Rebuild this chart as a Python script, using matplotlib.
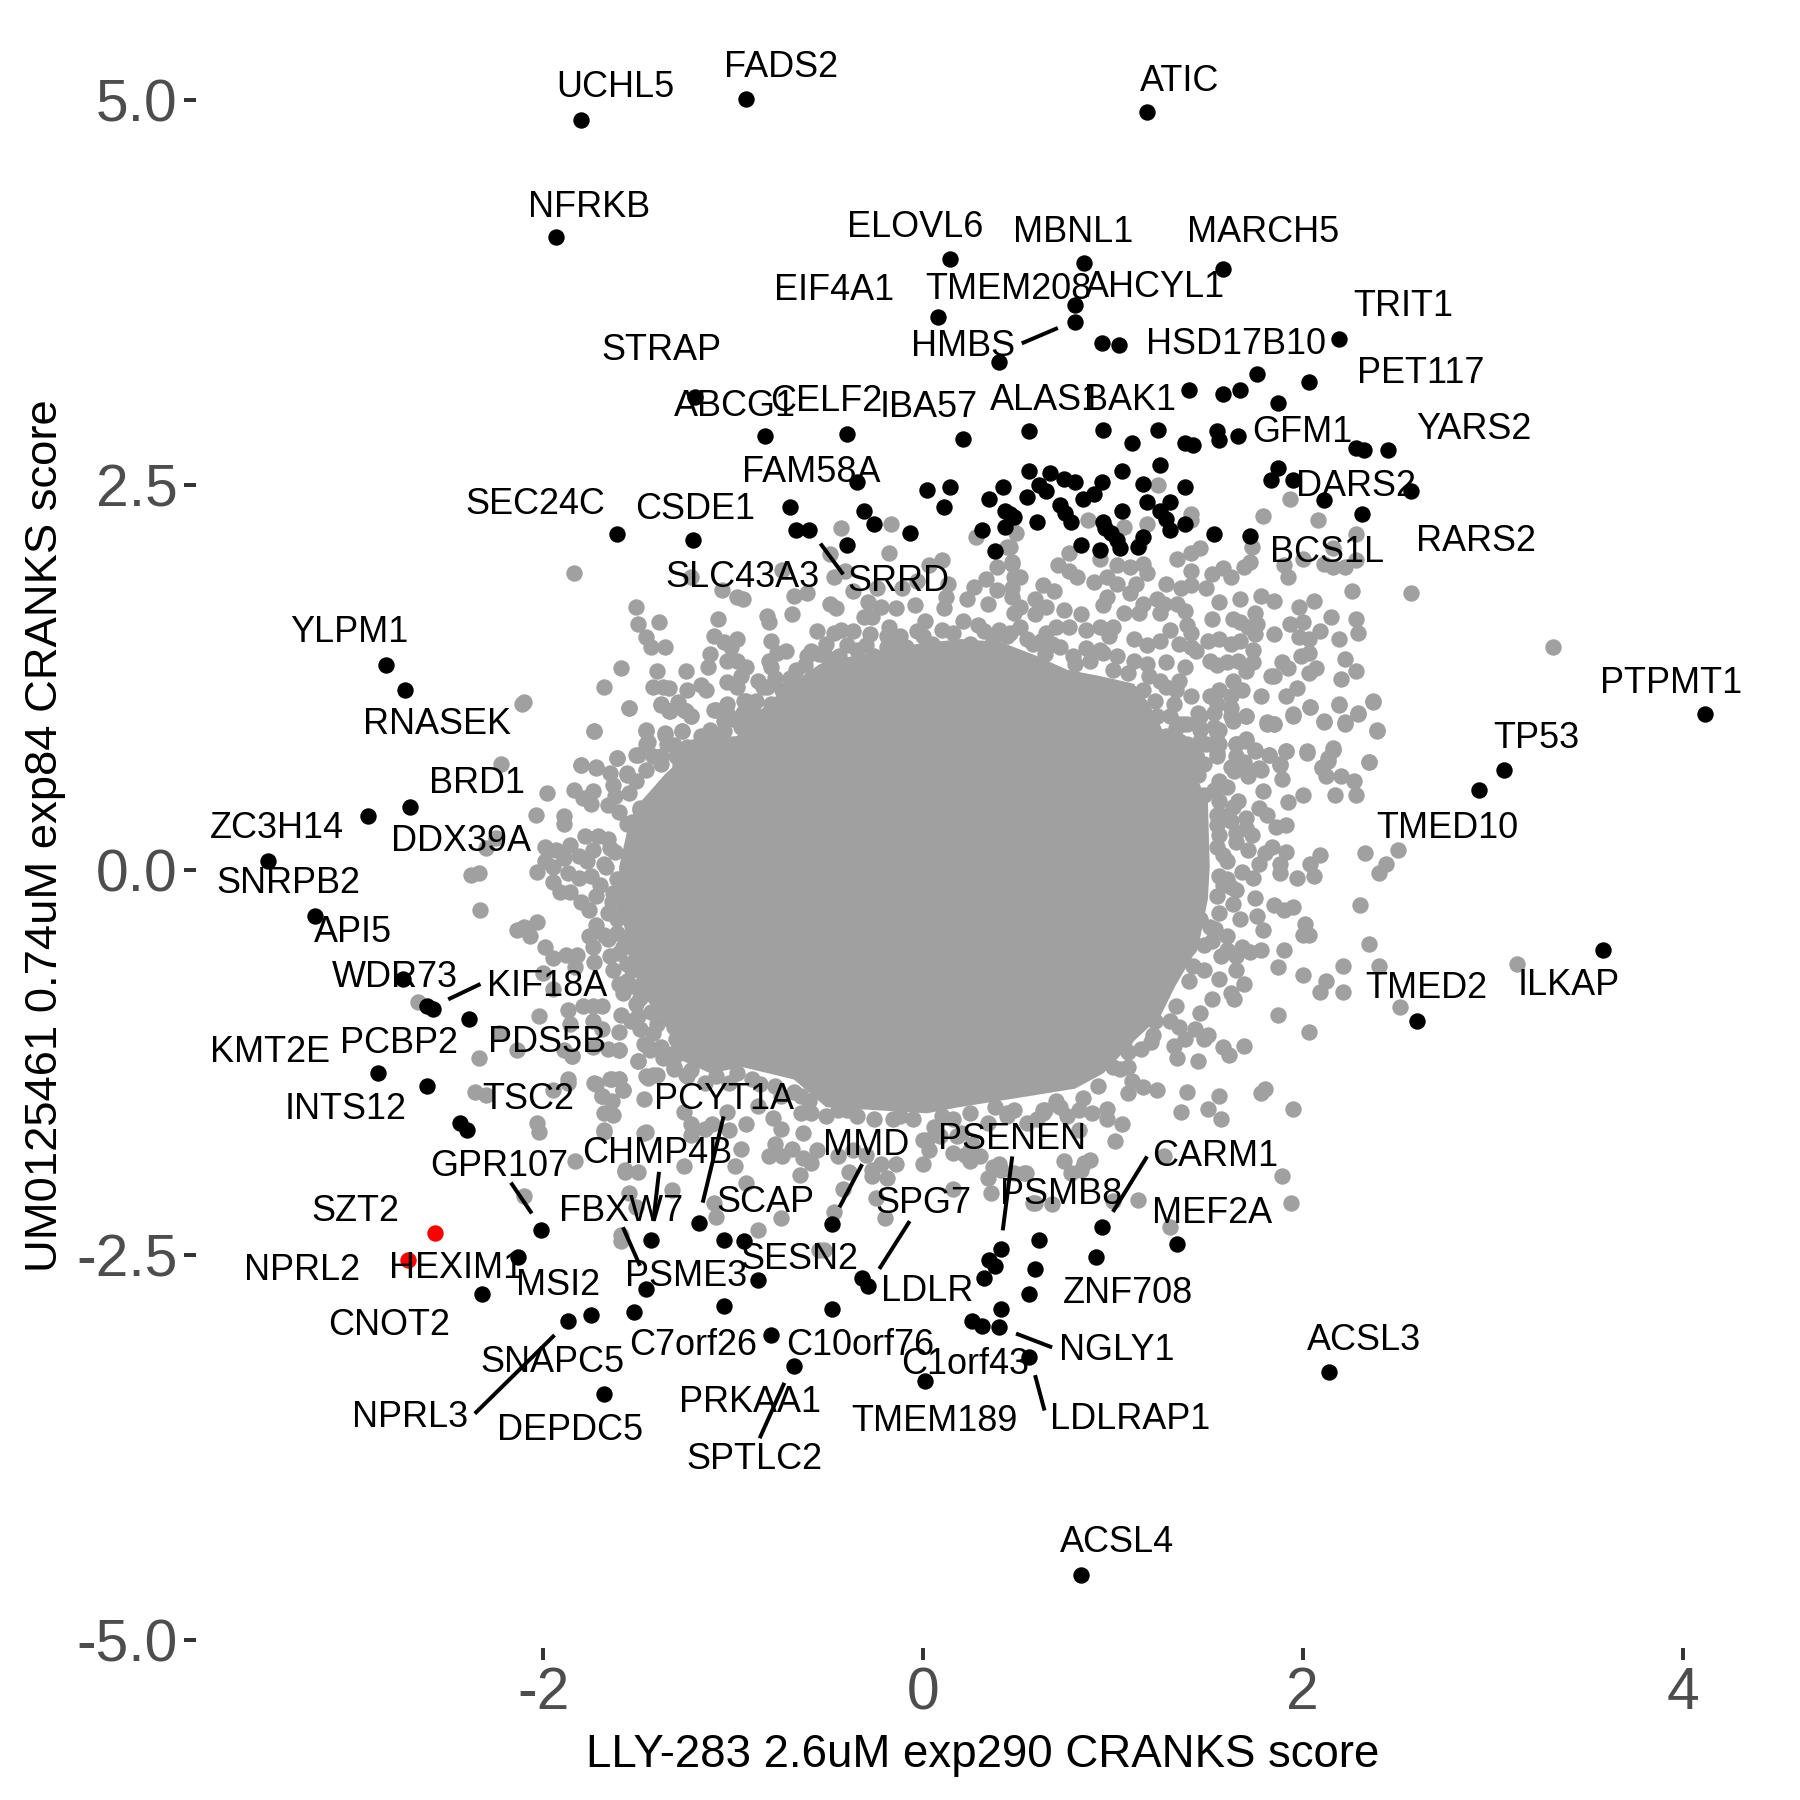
import numpy as np
import matplotlib
matplotlib.use('Agg')
import matplotlib.pyplot as plt

plt.rcParams['font.family'] = ['Liberation Sans', 'DejaVu Sans']

x_label = 'LLY-283 2.6uM exp290 CRANKS score'
y_label = 'UM0125461 0.74uM exp84 CRANKS score'
x_ticks = [-2, 0, 2, 4]
x_tick_labels = ['-2', '0', '2', '4']
y_ticks = [-5.0, -2.5, 0.0, 2.5, 5.0]
y_tick_labels = ['-5.0', '-2.5', '0.0', '2.5', '5.0']

# The central cloud is too dense to read point by point, so it is its outline.
core_outline = [
    (-1.60, 0.02), (-1.56, 0.24), (-1.51, 0.41), (-1.36, 0.62), (-1.16, 0.85), (-0.98, 0.87),
    (-0.89, 1.00), (-0.72, 1.19), (-0.54, 1.34), (-0.37, 1.39), (-0.02, 1.47), (0.20, 1.50),
    (0.41, 1.48), (0.58, 1.40), (0.76, 1.30), (0.93, 1.26), (1.11, 1.21), (1.19, 1.08),
    (1.27, 0.89), (1.40, 0.70), (1.50, 0.45), (1.51, 0.02), (1.50, -0.19), (1.45, -0.50),
    (1.33, -0.75), (1.25, -0.95), (1.12, -1.10), (0.95, -1.32), (0.80, -1.42), (0.55, -1.47),
    (0.19, -1.54), (0.02, -1.58), (-0.24, -1.56), (-0.51, -1.54), (-0.68, -1.36), (-0.95, -1.28),
    (-1.12, -1.32), (-1.30, -1.22), (-1.33, -1.05), (-1.45, -0.85), (-1.52, -0.60), (-1.60, -0.25),
]

grey_top_left = [
    (-1.84, 1.93), (-0.43, 2.22), (-0.17, 2.25), (-0.18, 2.06), (-0.49, 2.05), (-1.22, 1.90),
    (-1.06, 1.82), (-0.98, 1.77), (-0.95, 1.76), (-0.74, 1.95), (-0.68, 1.78), (-0.61, 1.80),
    (-0.47, 1.90), (-0.41, 1.94), (-0.37, 1.81), (-0.49, 1.73), (-0.46, 1.70), (-0.69, 1.66),
    (-0.82, 1.65), (-0.81, 1.61), (-1.08, 1.63), (-1.51, 1.71), (-1.50, 1.60), (-1.39, 1.61),
    (-1.46, 1.51), (-1.43, 1.45), (-1.36, 1.45), (-1.59, 1.31), (-1.40, 1.29), (-1.25, 1.29),
    (-1.68, 1.19), (-1.42, 1.19), (-1.37, 1.19), (-1.34, 1.18), (-1.24, 1.17), (-1.17, 1.20),
    (-1.14, 1.17), (-1.55, 1.05), (-1.38, 1.08), (-1.29, 1.09), (-1.33, 1.03), (-1.26, 1.04),
    (-1.22, 1.00), (-1.73, 0.90), (-1.46, 0.90), (-1.36, 0.88), (-1.27, 0.90), (-2.10, 1.09),
    (-1.61, 0.73), (-1.50, 0.75), (-1.46, 0.82), (-1.80, 0.68), (-1.72, 0.67), (-1.10, 1.52),
    (-1.05, 1.48), (-0.98, 1.50), (-1.01, 1.45), (-0.80, 1.49), (-1.12, 1.40), (-1.13, 1.32),
    (-1.03, 1.36), (-0.98, 1.36), (-0.93, 1.32), (-0.81, 1.36), (-0.80, 1.32), (-1.03, 1.22),
    (-0.96, 1.26), (-0.87, 1.23), (-0.74, 1.17), (-0.72, 1.42), (-0.77, 1.41), (-0.59, 1.42),
    (-0.56, 1.55), (-0.47, 1.54), (-0.43, 1.56), (-0.37, 1.55), (-0.28, 1.53), (-0.18, 1.58),
    (-0.19, 1.52), (-0.31, 1.64), (-0.27, 1.64), (-0.29, 1.74), (-0.22, 1.71), (-0.14, 1.70),
    (-0.04, 1.72), (-0.24, 1.83), (-0.11, 1.83), (-0.03, 1.88), (0.13, 1.86), (0.03, 1.98),
    (0.10, 2.01), (0.39, 1.97), (0.28, 2.16), (0.44, 2.10), (0.47, 2.27), (0.33, 1.89),
    (0.27, 1.84), (0.23, 1.76), (0.12, 1.77), (0.11, 1.70), (0.01, 1.62), (-0.03, 1.55),
    (0.21, 1.62), (0.29, 1.59), (0.39, 1.82), (0.47, 1.99), (0.47, 1.77), (0.34, 1.73),
    (0.48, 1.67), (0.48, 1.90), (-0.14, 1.47), (-0.09, 1.45), (-1.09, 1.04), (-1.03, 1.08),
    (-0.95, 1.02), (-1.05, 0.97), (-1.17, 0.87), (-1.12, 0.91), (-1.38, 0.74), (-1.31, 0.81),
    (-1.24, 0.80), (-1.17, 0.76), (-0.94, 1.10), (-0.89, 1.02), (-0.84, 1.19),
]

grey_top_right = [
    (1.24, 2.50), (1.93, 2.41), (1.79, 2.30), (2.08, 2.27), (0.87, 2.27), (1.18, 2.25),
    (1.41, 2.31), (1.41, 2.27), (2.28, 2.18), (1.06, 2.23), (1.14, 2.11), (1.73, 2.10),
    (1.46, 2.09), (1.41, 2.06), (1.34, 2.02), (1.72, 2.00), (1.69, 1.97), (1.90, 1.98),
    (1.92, 1.90), (2.00, 2.02), (2.16, 2.09), (2.11, 1.99), (2.16, 1.97), (2.22, 1.97),
    (2.28, 2.01), (2.26, 1.81), (2.57, 1.80), (1.41, 1.94), (1.41, 1.85), (1.36, 1.83),
    (1.49, 1.83), (1.52, 1.92), (1.58, 1.96), (1.62, 1.90), (1.56, 1.74), (1.67, 1.76),
    (1.78, 1.78), (1.85, 1.75), (2.06, 1.75), (1.98, 1.71), (1.75, 1.67), (1.52, 1.63),
    (1.63, 1.63), (1.67, 1.61), (1.71, 1.58), (1.76, 1.60), (2.15, 1.64), (2.28, 1.63),
    (1.93, 1.60), (2.00, 1.61), (2.29, 1.54), (2.09, 1.55), (1.85, 1.53), (1.75, 1.53),
    (1.98, 1.51), (2.03, 1.50), (2.19, 1.50), (1.50, 1.49), (1.56, 1.50), (1.62, 1.47),
    (1.67, 1.49), (2.03, 1.41), (1.99, 1.39), (2.22, 1.37), (1.74, 1.43), (1.51, 1.36),
    (1.55, 1.33), (1.60, 1.35), (1.66, 1.36), (1.74, 1.35), (1.89, 1.35), (1.92, 1.31),
    (2.07, 1.31), (2.03, 1.28), (2.28, 1.29), (1.83, 1.26), (1.85, 1.26), (1.70, 1.29),
    (1.63, 1.23), (2.20, 1.24), (1.97, 1.18), (1.68, 1.17), (1.56, 1.17), (1.51, 1.13),
    (1.62, 1.13), (1.41, 1.13), (1.35, 1.23), (1.78, 1.13), (1.91, 1.13), (2.37, 1.10),
    (2.04, 1.06), (2.19, 1.08), (2.29, 1.01), (1.55, 1.08), (1.62, 1.05), (1.70, 1.00),
    (1.95, 1.00), (1.81, 0.95), (1.85, 0.95), (2.11, 0.96), (2.22, 0.95), (2.39, 0.91),
    (1.63, 0.97), (1.53, 0.93), (1.46, 1.00), (1.46, 0.91), (1.55, 0.89), (1.39, 0.95),
    (1.37, 0.80), (1.46, 0.84), (1.70, 0.85), (1.65, 0.82), (1.75, 0.78), (1.82, 0.75),
    (1.91, 0.77), (2.02, 0.76), (2.16, 0.78), (2.13, 0.73), (2.10, 0.67), (2.35, 0.70),
    (1.88, 0.69), (1.77, 0.66), (1.55, 0.74), (1.65, 0.74), (1.41, 0.69), (1.44, 0.74),
    (1.69, 0.69), (3.32, 1.45), (0.46, 2.10), (0.49, 2.19), (0.47, 2.00), (0.51, 1.90),
    (0.47, 1.83), (0.51, 1.71), (0.59, 1.76), (0.59, 1.66), (0.63, 1.85), (0.69, 1.81),
    (0.71, 1.98), (0.77, 2.06), (0.77, 1.94), (0.81, 1.90), (0.90, 1.87), (0.93, 2.02),
    (0.97, 1.90), (1.02, 1.98), (1.09, 1.97), (1.16, 1.99), (1.18, 1.93), (1.12, 1.86),
    (1.02, 1.86), (0.97, 1.77), (0.95, 1.72), (1.09, 1.80), (1.16, 1.73), (1.23, 1.76),
    (1.28, 1.86), (1.27, 1.73), (1.34, 1.73), (1.38, 1.68), (1.25, 1.67), (1.39, 1.59),
    (1.41, 1.54), (1.30, 1.56), (1.35, 1.47), (1.41, 1.45), (1.44, 1.42), (1.28, 1.35),
    (1.38, 1.32), (1.14, 1.67), (1.06, 1.67), (0.65, 1.71), (0.74, 1.69), (0.83, 1.66),
    (0.93, 1.58), (0.86, 1.56), (0.77, 1.58), (0.65, 1.54), (1.00, 1.58), (1.11, 1.50),
    (1.18, 1.46), (1.25, 1.49), (1.18, 1.34), (0.98, 1.52), (0.72, 1.45), (0.86, 1.44),
    (0.95, 1.41), (0.62, 1.49), (1.25, 1.23), (1.33, 1.17),
]

grey_left = [
    (-2.11, 1.08), (-1.55, 1.05), (-1.73, 0.90), (-2.22, 0.69), (-1.46, 0.91), (-1.36, 0.89),
    (-1.27, 0.90), (-1.38, 1.07), (-1.34, 1.03), (-1.22, 1.00), (-1.10, 1.04), (-1.25, 1.03),
    (-1.45, 0.83), (-1.61, 0.73), (-1.51, 0.75), (-1.80, 0.68), (-1.72, 0.66), (-1.65, 0.63),
    (-1.56, 0.62), (-1.63, 0.55), (-1.62, 0.48), (-1.98, 0.50), (-1.84, 0.52), (-1.74, 0.51),
    (-1.79, 0.47), (-1.75, 0.43), (-1.66, 0.42), (-2.04, 0.36), (-1.89, 0.35), (-1.89, 0.30),
    (-1.53, 0.31), (-1.49, 0.40), (-1.51, 0.58), (-2.30, 0.14), (-2.25, 0.21), (-2.38, -0.03),
    (-2.34, -0.02), (-2.33, -0.26), (-1.78, 0.22), (-1.71, 0.22), (-1.99, 0.15), (-1.93, 0.13),
    (-1.86, 0.16), (-1.65, 0.14), (-1.99, 0.06), (-1.95, 0.02), (-2.03, -0.01), (-1.89, 0.08),
    (-1.87, -0.02), (-1.81, -0.05), (-1.95, -0.08), (-1.91, -0.14), (-1.86, -0.14), (-1.77, 0.06),
    (-1.68, 0.04), (-1.61, -0.06), (-1.80, -0.21), (-1.72, -0.17), (-1.76, -0.26), (-1.64, -0.21),
    (-1.58, -0.28), (-2.03, -0.34), (-2.10, -0.37), (-2.14, -0.39), (-2.07, -0.43), (-1.72, -0.36),
    (-1.76, -0.43), (-1.66, -0.45), (-1.56, -0.44), (-1.61, -0.41), (-1.99, -0.50), (-1.95, -0.57),
    (-1.88, -0.55), (-1.82, -0.55), (-1.74, -0.50), (-1.73, -0.60), (-1.65, -0.56), (-1.51, -0.54),
    (-1.44, -0.65), (-1.83, -0.63), (-2.00, -0.67), (-1.95, -0.77), (-1.60, -0.74), (-1.51, -0.76),
    (-1.53, -0.65), (-1.79, -0.88), (-1.74, -0.88), (-1.69, -0.88), (-1.58, -0.80), (-1.49, -0.83),
    (-1.40, -0.78), (-1.87, -0.91), (-2.02, -0.95), (-1.59, -0.94), (-1.54, -0.98), (-1.60, -1.05),
    (-1.86, -1.00), (-2.23, -1.06), (-1.74, -0.98), (-1.69, -1.03), (-1.49, -1.03), (-1.40, -1.00),
    (-1.34, -0.97), (-2.14, -1.17), (-2.34, -1.22), (-1.89, -1.17), (-1.85, -1.21), (-1.74, -1.15),
    (-1.60, -1.17), (-1.47, -1.13), (-1.38, -1.15), (-1.50, -1.24), (-1.31, -1.19), (-1.21, -1.19),
    (-1.24, -1.06), (-1.31, -1.28), (-1.24, -1.34), (-1.42, -1.33), (-1.45, -1.35), (-2.36, -1.44),
    (-1.87, -1.36), (-1.72, -1.39), (-1.65, -1.36), (-1.60, -1.36), (-1.58, -1.43), (-1.69, -1.47),
    (-1.95, -1.43), (-2.66, -0.86), (-2.30, -1.46), (-2.10, -2.12), (-2.03, -1.64), (-2.02, -1.70),
    (-1.73, -1.38), (-1.87, -1.38), (-1.68, -1.70), (-1.46, -1.70),
]

grey_right = [
    (1.70, 1.00), (1.81, 0.96), (1.85, 0.95), (1.95, 1.01), (2.04, 1.06), (2.11, 0.97),
    (2.22, 0.96), (2.29, 1.02), (2.19, 1.07), (2.37, 1.09), (2.39, 0.90), (1.45, 1.02),
    (1.53, 1.02), (1.62, 1.00), (1.37, 0.95), (1.46, 0.92), (1.56, 0.91), (1.70, 0.84),
    (1.75, 0.77), (1.82, 0.75), (1.91, 0.77), (2.02, 0.77), (2.16, 0.79), (2.13, 0.71),
    (2.10, 0.66), (1.88, 0.68), (2.35, 0.70), (2.12, 0.61), (2.20, 0.61), (2.27, 0.58),
    (1.89, 0.59), (1.78, 0.65), (1.71, 0.61), (1.64, 0.64), (1.69, 0.70), (1.37, 0.81),
    (1.44, 0.75), (1.56, 0.82), (1.65, 0.82), (1.79, 0.51), (2.00, 0.49), (2.17, 0.49),
    (2.28, 0.49), (1.92, 0.44), (1.77, 0.40), (1.81, 0.36), (1.66, 0.45), (1.62, 0.32),
    (1.70, 0.34), (1.86, 0.28), (1.91, 0.29), (1.70, 0.27), (1.73, 0.23), (1.55, 0.29),
    (2.33, 0.11), (2.50, 0.13), (2.44, 0.04), (2.40, -0.02), (2.09, 0.10), (2.04, 0.04),
    (2.06, -0.04), (1.97, -0.05), (1.84, 0.15), (1.80, 0.11), (1.91, 0.12), (1.77, 0.04),
    (1.71, 0.13), (1.65, 0.18), (1.88, 0.04), (1.88, -0.02), (1.68, -0.01), (1.74, -0.05),
    (1.65, -0.13), (1.75, -0.18), (2.30, -0.23), (1.85, -0.23), (1.90, -0.26), (1.95, -0.24),
    (1.76, -0.30), (1.67, -0.32), (2.01, -0.35), (2.00, -0.42), (2.03, -0.42), (1.79, -0.39),
    (1.60, -0.43), (2.35, -0.48), (1.68, -0.50), (1.78, -0.52), (1.72, -0.53), (1.90, -0.52),
    (1.65, -0.56), (1.48, -0.49), (1.60, -0.52), (1.40, -0.50), (1.57, -0.56), (1.87, -0.63),
    (2.21, -0.62), (2.40, -0.62), (3.13, -0.61), (2.00, -0.68), (1.65, -0.65), (2.12, -0.72),
    (2.09, -0.79), (2.21, -0.79), (1.69, -0.74), (1.56, -0.71), (1.48, -0.65), (1.62, -0.80),
    (1.64, -0.84), (1.52, -0.84), (1.46, -0.93), (1.87, -0.94), (2.51, -0.89), (2.03, -1.05),
    (1.35, -1.02), (1.43, -1.03), (1.50, -1.07), (1.48, -1.10), (1.69, -1.14), (1.58, -1.15),
    (1.61, -1.20), (1.38, -1.10), (1.32, -1.14), (1.34, -1.22), (1.45, -1.24), (1.21, -1.07),
    (1.15, -1.16), (1.06, -1.11), (1.08, -1.28), (1.04, -1.29), (1.10, -1.37), (1.16, -1.41),
    (1.23, -1.43), (1.39, -1.44), (1.56, -1.47), (1.78, -1.45), (1.80, -1.42), (1.08, -1.45),
]

grey_bottom = [
    (-1.60, -1.17), (-1.66, -1.16), (-1.85, -1.21), (-1.50, -1.24), (-1.44, -1.17), (-1.30, -1.20),
    (-1.31, -1.29), (-1.25, -1.33), (-1.46, -1.34), (-1.40, -1.33), (-1.72, -1.39), (-1.64, -1.36),
    (-1.60, -1.36), (-1.58, -1.43), (-1.69, -1.47), (-1.64, -1.50), (-1.47, -1.49), (-1.68, -1.58),
    (-1.63, -1.59), (-1.68, -1.69), (-1.47, -1.71), (-1.83, -1.89), (-1.26, -1.57), (-1.22, -1.65),
    (-1.22, -1.72), (-1.11, -1.65), (-1.15, -1.68), (-1.03, -1.57), (-1.02, -1.69), (-0.93, -1.65),
    (-0.87, -1.53), (-0.79, -1.61), (-0.75, -1.68), (-0.64, -1.58), (-0.63, -1.71), (-0.96, -1.81),
    (-0.99, -1.92), (-1.26, -1.92), (-1.57, -1.96), (-1.50, -1.96), (-1.32, -2.08), (-1.55, -2.10),
    (-1.51, -2.19), (-1.59, -2.37), (-1.10, -2.16), (-1.09, -2.25), (-0.93, -2.03), (-0.75, -2.26),
    (-0.87, -2.34), (-0.52, -2.47), (-0.81, -1.86), (-0.78, -1.78), (-0.74, -1.86), (-0.69, -1.81),
    (-0.63, -1.87), (-0.59, -1.90), (-0.56, -1.82), (-0.65, -1.98), (-0.47, -2.22), (-0.42, -2.07),
    (-0.39, -1.96), (-0.27, -1.99), (-0.22, -1.91), (-0.14, -1.91), (-0.19, -2.00), (0.00, -1.91),
    (-0.25, -2.13), (-0.20, -2.26), (0.16, -2.07), (0.36, -2.10), (0.34, -2.00), (0.25, -1.89),
    (0.16, -1.84), (0.22, -1.85), (0.54, -1.97), (0.37, -1.93), (0.41, -1.95), (0.48, -1.97),
    (0.03, -1.82), (0.58, -2.16), (0.68, -2.17), (0.00, -1.75), (0.09, -1.73), (0.63, -1.56),
    (-0.37, -1.82), (-0.45, -1.86), (-0.30, -1.85), (1.36, -1.57), (1.50, -1.55), (1.57, -1.62),
    (1.95, -1.55), (1.05, -1.65), (1.01, -1.76), (1.89, -1.99), (1.94, -2.16), (1.13, -2.14),
    (1.30, -2.32), (0.53, -1.97), (0.59, -2.16), (0.78, -1.97), (0.85, -1.90), (0.88, -1.88),
    (0.74, -1.89), (0.83, -1.95), (1.00, -2.15), (-0.27, -1.95), (-0.55, -2.47), (1.27, -1.86),
    (0.64, -1.56), (0.82, -1.56), (0.97, -1.55), (0.44, -1.58), (0.26, -1.78), (0.30, -1.86),
    (0.40, -1.91), (0.20, -1.71), (-1.59, -2.41), (-1.57, -1.95),
]

# dense band just outside the outline, estimated by eye
grey_ring = [
    (-0.67, 1.30), (-0.61, 1.39), (-0.51, 1.47), (-0.44, 1.39), (-0.35, 1.43), (-0.26, 1.39),
    (-0.19, 1.45), (-0.05, 1.39), (0.05, 1.47), (0.16, 1.54), (0.25, 1.47), (0.37, 1.49),
    (0.46, 1.54), (-0.98, 1.19), (-0.93, 1.10), (-0.82, 1.19), (-1.03, 1.02), (-0.96, 0.93),
    (-1.10, 0.87), (-1.21, 0.80), (-1.30, 0.74), (-1.38, 0.69), (0.58, 1.47), (0.51, 1.58),
    (0.44, 1.52), (0.70, 1.58), (0.79, 1.39), (0.93, 1.43), (1.02, 1.39), (1.11, 1.36),
    (1.19, 1.26), (1.16, 1.17), (1.28, 1.19), (1.32, 1.08), (1.35, 0.95), (1.28, 0.87),
    (1.39, 0.82), (1.23, 1.00), (1.32, 0.71), (1.39, 0.78), (1.48, 0.69), (1.55, 0.76),
    (1.62, 0.67), (1.56, 0.58), (1.48, 0.49), (1.56, 0.45), (1.63, 0.41), (1.60, 0.54),
    (1.39, 0.60), (1.49, 0.82), (1.35, 0.84), (1.56, 0.23), (1.65, 0.24), (1.55, 0.15),
    (1.60, 0.06), (1.56, -0.04), (1.62, -0.11), (1.55, -0.17), (1.63, -0.22), (1.56, -0.28),
    (1.51, -0.37), (1.46, -0.32), (-1.81, 0.09), (-1.74, 0.13), (-1.67, 0.02), (-1.75, -0.04),
    (-1.63, -0.15), (-1.56, -0.22), (-1.53, -0.32), (-1.61, -0.32), (-1.60, -0.54), (-1.56, -0.61),
    (-1.63, -0.65), (-1.47, -0.71), (-1.44, -0.80), (-1.51, -0.87), (-1.33, -0.91), (-1.31, -1.02),
    (-1.42, -1.06), (-1.24, -1.15), (-1.16, -1.06), (-1.49, 0.39), (-1.56, 0.30), (-1.56, 0.63),
    (-1.42, 0.74), (-1.35, 0.82), (-1.46, 0.65), (-1.17, -1.23), (-1.09, -1.34), (-0.98, -1.32),
    (-0.86, -1.39), (-0.75, -1.47), (-0.64, -1.47), (-0.59, -1.58), (-0.51, -1.60), (-0.40, -1.56),
    (-0.26, -1.62), (-0.16, -1.62), (-0.05, -1.62), (0.06, -1.67), (0.16, -1.62), (0.25, -1.58),
    (0.34, -1.64), (0.44, -1.60), (0.55, -1.64), (0.63, -1.58), (0.02, -1.75), (0.18, -1.73),
    (0.25, -1.82), (0.48, -1.56), (0.60, -1.62), (0.76, -1.60), (0.89, -1.58), (0.72, -1.54),
    (0.97, -1.62), (0.82, -1.69), (-1.66, 0.20), (-1.70, -0.10), (-1.66, -0.28), (-1.62, 0.12),
    (-1.60, 0.38), (-1.55, 0.50), (-1.68, -0.42), (-1.58, -0.50), (-1.56, -0.72), (-1.50, -0.95),
    (-1.43, -0.92), (-1.45, -1.15), (-1.37, -1.22), (-1.30, -1.10), (-1.28, 0.68), (-1.22, 0.72),
    (-1.12, 0.80), (-1.05, 0.90), (-1.00, 0.98), (-0.92, 0.94), (-0.88, 1.10), (-0.80, 1.08),
    (-0.78, 1.25), (-0.70, 1.25), (-0.62, 1.33), (-0.55, 1.40), (-0.50, 1.38), (-0.40, 1.46),
    (-0.30, 1.46), (-0.12, 1.52), (0.00, 1.52), (0.10, 1.56), (0.32, 1.55), (0.40, 1.56),
    (0.55, 1.50), (0.64, 1.40), (0.68, 1.47), (0.80, 1.34), (0.88, 1.36), (1.00, 1.30),
    (1.08, 1.28), (1.22, 1.10), (1.30, 1.00), (1.33, 0.92), (1.43, 0.72), (1.45, 0.62),
    (1.53, 0.52), (1.58, 0.35), (1.55, 0.36), (1.60, -0.06), (1.58, 0.10), (1.58, -0.10),
    (1.54, -0.38), (1.52, -0.46), (1.42, -0.62), (1.40, -0.72), (1.33, -0.88), (1.30, -0.98),
    (1.22, -0.98), (1.20, -1.12), (1.08, -1.18), (1.00, -1.28), (0.92, -1.40), (0.84, -1.48),
    (0.70, -1.50), (0.38, -1.54), (0.10, -1.60), (-0.12, -1.60), (-0.35, -1.60), (-0.45, -1.56),
    (-0.60, -1.50), (-0.68, -1.44), (-0.78, -1.40), (-0.90, -1.36), (-1.02, -1.38), (-1.15, -1.38),
    (-1.22, -1.30),
]

black_top = [
    (-1.80, 4.87), (-0.93, 5.01), (1.18, 4.92), (-1.93, 4.11), (0.14, 3.97), (0.85, 3.94),
    (1.58, 3.90), (0.80, 3.67), (0.08, 3.59), (0.80, 3.56), (0.94, 3.42), (1.03, 3.41),
    (2.19, 3.45), (0.40, 3.30), (1.76, 3.22), (2.03, 3.17), (1.40, 3.12), (1.58, 3.09),
    (1.67, 3.12), (-1.20, 3.07), (1.87, 3.03), (-0.83, 2.82), (-0.40, 2.83), (0.21, 2.80),
    (0.56, 2.85), (0.95, 2.86), (1.24, 2.86), (1.10, 2.77), (1.38, 2.77), (1.42, 2.76),
    (1.55, 2.85), (1.56, 2.79), (1.66, 2.82), (2.28, 2.74), (2.32, 2.73), (2.45, 2.73),
    (1.87, 2.61), (1.83, 2.53), (1.95, 2.53), (2.11, 2.40), (2.57, 2.46), (2.31, 2.31),
    (1.25, 2.63), (1.05, 2.59), (0.56, 2.59), (0.67, 2.58), (0.74, 2.54), (0.80, 2.52),
    (0.94, 2.52), (1.16, 2.51), (1.38, 2.49), (-0.35, 2.52), (0.14, 2.49), (0.42, 2.49),
    (0.02, 2.47), (0.61, 2.50), (0.65, 2.46), (0.35, 2.41), (0.55, 2.42), (0.90, 2.44),
    (0.84, 2.41), (0.72, 2.37), (1.18, 2.39), (1.30, 2.39), (-0.70, 2.36), (0.11, 2.36),
    (0.43, 2.33), (0.46, 2.31), (0.48, 2.29), (-0.31, 2.33), (1.05, 2.33), (0.75, 2.32),
    (1.25, 2.33), (1.28, 2.28), (-0.26, 2.25), (0.60, 2.26), (0.78, 2.26), (0.95, 2.26),
    (0.96, 2.22), (-0.67, 2.21), (-0.60, 2.21), (0.43, 2.23), (1.38, 2.25), (1.30, 2.21),
    (-0.07, 2.19), (0.31, 2.21), (0.99, 2.19), (1.16, 2.16), (1.02, 2.14), (1.53, 2.18),
    (1.72, 2.17), (-1.21, 2.14), (-0.40, 2.11), (0.83, 2.11), (0.93, 2.08), (1.04, 2.09),
    (1.13, 2.10), (0.38, 2.07), (-1.61, 2.18),
]

black_side = [
    (-2.83, 1.33), (-2.73, 1.17), (-2.70, 0.41), (-2.92, 0.35), (-3.45, 0.06), (-3.20, -0.30),
    (-2.74, -0.71), (-2.61, -0.88), (-2.58, -0.90), (-2.39, -0.97), (-2.87, -1.32), (-2.61, -1.40),
    (-2.44, -1.64), (-2.40, -1.69), (4.12, 1.01), (3.06, 0.65), (2.93, 0.52), (3.58, -0.52),
    (2.60, -0.98),
]

black_bottom = [
    (-2.01, -2.34), (-2.13, -2.51), (-2.32, -2.75), (-1.87, -2.93), (-1.75, -2.89), (-1.52, -2.87),
    (-1.68, -3.40), (-1.43, -2.40), (-1.46, -2.72), (-1.18, -2.29), (-1.05, -2.40), (-0.94, -2.41),
    (-0.87, -2.66), (-1.05, -2.83), (-0.48, -2.30), (-0.48, -2.85), (-0.32, -2.65), (-0.29, -2.70),
    (-0.80, -3.02), (-0.68, -3.22), (0.94, -2.32), (1.34, -2.43), (0.61, -2.40), (0.41, -2.46),
    (0.35, -2.53), (0.38, -2.57), (0.32, -2.65), (0.59, -2.59), (0.91, -2.51), (0.56, -2.75),
    (0.41, -2.85), (0.26, -2.93), (0.31, -2.96), (0.40, -2.97), (0.56, -3.16), (0.01, -3.32),
    (2.14, -3.26), (0.83, -4.58),
]

red_points = [(-2.57, -2.36), (-2.71, -2.53)]

gene_labels = [
    ('UCHL5', -1.62, 5.09), ('FADS2', -0.75, 5.22), ('ATIC', 1.35, 5.13), ('NFRKB', -1.76, 4.31),
    ('ELOVL6', -0.04, 4.18), ('MBNL1', 0.79, 4.15), ('MARCH5', 1.79, 4.15), ('EIF4A1', -0.47, 3.77),
    ('TMEM208', 0.45, 3.78), ('AHCYL1', 1.22, 3.79), ('TRIT1', 2.53, 3.67), ('HMBS', 0.21, 3.41),
    ('HSD17B10', 1.65, 3.42), ('STRAP', -1.38, 3.38), ('PET117', 2.62, 3.23), ('ABCG1', -0.99, 3.02),
    ('CELF2', -0.51, 3.05), ('IBA57', 0.03, 3.01), ('ALAS1', 0.65, 3.06), ('BAK1', 1.09, 3.06),
    ('GFM1', 2.00, 2.85), ('YARS2', 2.90, 2.87), ('FAM58A', -0.59, 2.59), ('DARS2', 2.28, 2.50),
    ('SEC24C', -2.04, 2.38), ('CSDE1', -1.20, 2.35), ('RARS2', 2.91, 2.14), ('BCS1L', 2.13, 2.07),
    ('SLC43A3', -0.95, 1.91), ('SRRD', -0.13, 1.88), ('YLPM1', -3.02, 1.55), ('RNASEK', -2.56, 0.95),
    ('PTPMT1', 3.94, 1.22), ('TP53', 3.23, 0.86), ('BRD1', -2.35, 0.57), ('ZC3H14', -3.40, 0.28),
    ('TMED10', 2.76, 0.28), ('DDX39A', -2.43, 0.19), ('SNRPB2', -3.34, -0.08), ('API5', -3.00, -0.40),
    ('WDR73', -2.78, -0.69), ('KIF18A', -1.98, -0.75), ('ILKAP', 3.40, -0.74), ('TMED2', 2.65, -0.76),
    ('PCBP2', -2.76, -1.12), ('PDS5B', -1.98, -1.11), ('KMT2E', -3.44, -1.18), ('PCYT1A', -1.05, -1.48),
    ('TSC2', -2.08, -1.48), ('INTS12', -3.04, -1.55), ('CHMP4B', -1.40, -1.83), ('GPR107', -2.23, -1.92),
    ('MMD', -0.30, -1.78), ('PSENEN', 0.47, -1.74), ('CARM1', 1.54, -1.85), ('PSMB8', 0.73, -2.10),
    ('SPG7', 0.00, -2.16), ('SCAP', -0.83, -2.15), ('FBXW7', -1.59, -2.21), ('MEF2A', 1.52, -2.22),
    ('SZT2', -2.99, -2.21), ('SESN2', -0.65, -2.52), ('NPRL2', -3.27, -2.59), ('HEXIM1', -2.46, -2.58),
    ('PSME3', -1.25, -2.63), ('LDLR', 0.02, -2.73), ('MSI2', -1.92, -2.69), ('ZNF708', 1.08, -2.74),
    ('CNOT2', -2.81, -2.95), ('C7orf26', -1.21, -3.08), ('C10orf76', -0.33, -3.08), ('NGLY1', 1.02, -3.11),
    ('ACSL3', 2.32, -3.05), ('C1orf43', 0.22, -3.20), ('SNAPC5', -1.95, -3.19), ('PRKAA1', -0.91, -3.45),
    ('LDLRAP1', 1.09, -3.56), ('NPRL3', -2.70, -3.55), ('TMEM189', 0.06, -3.57), ('DEPDC5', -1.86, -3.63),
    ('SPTLC2', -0.89, -3.82), ('ACSL4', 1.02, -4.36),
]

# label connector lines: x0, y0, x1, y1
connectors = [
    (0.52, 3.42, 0.71, 3.52), (-0.54, 2.12, -0.42, 1.92), (-2.50, -0.84, -2.33, -0.74),
    (-1.05, -1.60, -1.16, -2.16), (-1.39, -1.96, -1.42, -2.28), (-1.58, -2.32, -1.49, -2.57),
    (-2.17, -2.03, -2.06, -2.23), (-0.32, -1.91, -0.44, -2.19), (-0.07, -2.28, -0.23, -2.59),
    (0.47, -1.86, 0.42, -2.34), (1.18, -1.86, 1.00, -2.22), (0.49, -3.01, 0.68, -3.10),
    (0.59, -3.28, 0.64, -3.51), (-1.94, -3.02, -2.36, -3.53), (-0.73, -3.33, -0.86, -3.69),
]

grey = '#A0A0A0'
point_size = 15.5

fig = plt.figure(figsize=(6, 6), dpi=300)
ax = fig.add_axes([196 / 1800, 1 - 1648 / 1800, (1770 - 196) / 1800, (1648 - 40) / 1800])

core = np.array(core_outline)
ax.fill(core[:, 0], core[:, 1], color=grey, lw=0, zorder=1)

grey_all = np.array(grey_top_left + grey_top_right + grey_left + grey_right + grey_bottom + grey_ring)
ax.scatter(grey_all[:, 0], grey_all[:, 1], s=point_size, c=grey, linewidths=0, zorder=1, clip_on=False)

black_all = np.array(black_top + black_side + black_bottom)
ax.scatter(black_all[:, 0], black_all[:, 1], s=point_size, c='black', linewidths=0, zorder=2, clip_on=False)

red = np.array(red_points)
ax.scatter(red[:, 0], red[:, 1], s=point_size, c='#FF0000', linewidths=0, zorder=2, clip_on=False)

for x0, y0, x1, y1 in connectors:
    ax.plot([x0, x1], [y0, y1], color='black', lw=0.95, zorder=3, solid_capstyle='butt')

for name, x, y in gene_labels:
    ax.text(x, y - 0.008, name, fontsize=8.65, color='black', ha='center', va='center', zorder=4, clip_on=False)

ax.set_xlim(-3.828, 4.46)
ax.set_ylim(-5.052, 5.39)
ax.set_xticks(x_ticks)
ax.set_xticklabels(x_tick_labels)
ax.set_yticks(y_ticks)
ax.set_yticklabels(y_tick_labels)
ax.tick_params(axis='both', length=2.9, width=0.95, color='#333333', labelcolor='#4D4D4D', labelsize=14.1, pad=1.5)
for spine in ax.spines.values():
    spine.set_visible(False)

ax.set_xlabel(x_label, fontsize=10.95, color='black', labelpad=2.8)
ax.set_ylabel(y_label, fontsize=10.9, color='black', labelpad=2)
ax.yaxis.set_label_coords(-0.0825, 0.505)

fig.savefig('out.png', dpi=300)
